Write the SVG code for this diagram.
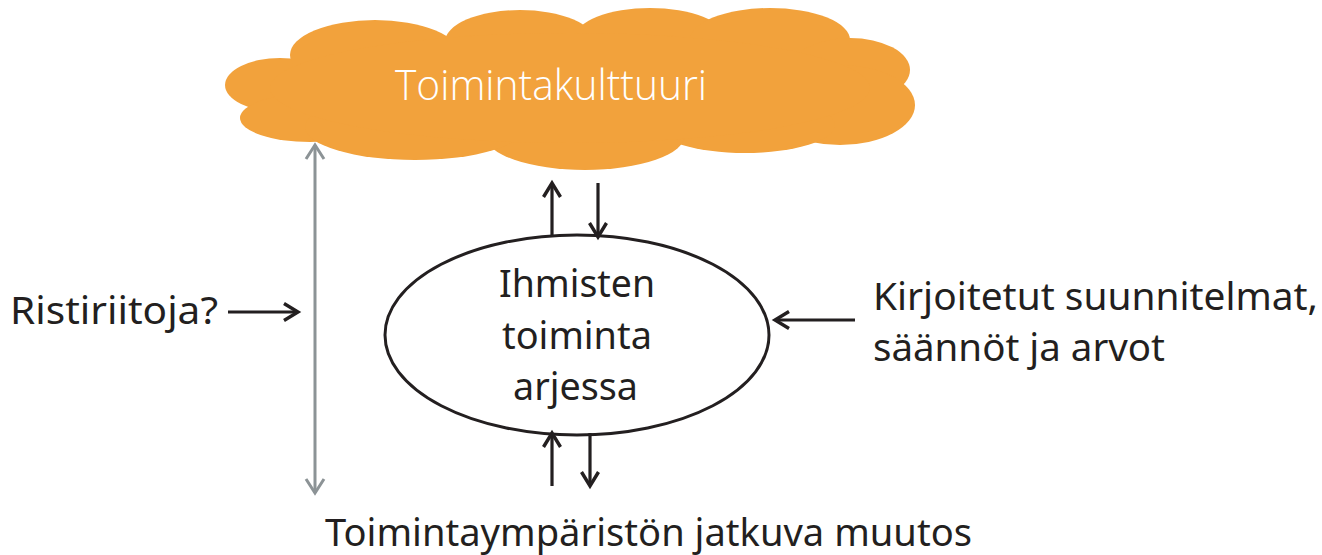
<svg xmlns="http://www.w3.org/2000/svg" width="1322" height="555" viewBox="0 0 1322 555">
<defs>
<style>
.lbl{font-family:"Noto Sans","Open Sans",sans-serif;font-size:38px;fill:#231f20}
.cl{fill:#f2a23c}
.ln{stroke:#231f20;stroke-width:3.2;fill:none}
.gr{stroke:#8c9396;stroke-width:3;fill:none}
</style>
<marker id="ah" viewBox="0 0 22 22" refX="18" refY="11" markerWidth="22" markerHeight="22" markerUnits="userSpaceOnUse" orient="auto-start-reverse">
<path d="M4,2.5 L18,11 L4,19.5" fill="none" stroke="#231f20" stroke-width="3.4"/>
</marker>
<marker id="ag" viewBox="0 0 22 22" refX="18" refY="11" markerWidth="22" markerHeight="22" markerUnits="userSpaceOnUse" orient="auto-start-reverse">
<path d="M4,2 L18,11 L4,20" fill="none" stroke="#8c9396" stroke-width="3"/>
</marker>
</defs>
<rect width="1322" height="555" fill="#ffffff"/>
<g id="cloud">
<ellipse class="cl" cx="280" cy="85" rx="55" ry="27"/>
<ellipse class="cl" cx="310" cy="118" rx="70" ry="24"/>
<ellipse class="cl" cx="375" cy="55" rx="85" ry="35"/>
<ellipse class="cl" cx="520" cy="42" rx="75" ry="32"/>
<ellipse class="cl" cx="650" cy="38" rx="75" ry="30"/>
<ellipse class="cl" cx="770" cy="40" rx="80" ry="32"/>
<ellipse class="cl" cx="850" cy="70" rx="60" ry="32"/>
<ellipse class="cl" cx="840" cy="105" rx="75" ry="40"/>
<ellipse class="cl" cx="745" cy="125" rx="90" ry="28"/>
<ellipse class="cl" cx="585" cy="135" rx="100" ry="35"/>
<ellipse class="cl" cx="415" cy="127" rx="110" ry="33"/>
<ellipse class="cl" cx="570" cy="88" rx="300" ry="55"/>
<text x="395" y="100" textLength="312" lengthAdjust="spacingAndGlyphs" style="font-family:'Open Sans','Noto Sans',sans-serif;font-weight:300;font-size:43px;fill:#ffffff">Toimintakulttuuri</text>
</g>
<g id="ellipse-node">
<ellipse cx="577" cy="335" rx="192" ry="100" fill="#ffffff" stroke="#231f20" stroke-width="3"/>
<text class="lbl"><tspan x="499" y="297" textLength="156" lengthAdjust="spacingAndGlyphs">Ihmisten</tspan><tspan x="502" y="349" textLength="150" lengthAdjust="spacingAndGlyphs">toiminta</tspan><tspan x="513" y="400" textLength="125" lengthAdjust="spacingAndGlyphs">arjessa</tspan></text>
</g>
<g id="left-label"><text class="lbl" x="10" y="324" textLength="208" lengthAdjust="spacingAndGlyphs">Ristiriitoja?</text></g>
<g id="right-label"><text class="lbl"><tspan x="873" y="310" textLength="445" lengthAdjust="spacingAndGlyphs">Kirjoitetut suunnitelmat,</tspan><tspan x="873" y="361" textLength="292" lengthAdjust="spacingAndGlyphs">säännöt ja arvot</tspan></text></g>
<g id="bottom-label"><text class="lbl" x="325" y="546" textLength="647" lengthAdjust="spacingAndGlyphs">Toimintaympäristön jatkuva muutos</text></g>
<g id="connectors">
<line class="ln" x1="552" y1="236" x2="552" y2="183" marker-end="url(#ah)"/>
<line class="ln" x1="598" y1="183" x2="598" y2="237" marker-end="url(#ah)"/>
<line class="ln" x1="552" y1="486" x2="552" y2="433" marker-end="url(#ah)"/>
<line class="ln" x1="590" y1="433" x2="590" y2="486" marker-end="url(#ah)"/>
<line class="ln" x1="228" y1="312" x2="298" y2="312" marker-end="url(#ah)"/>
<line class="ln" x1="855" y1="320" x2="775" y2="320" marker-end="url(#ah)"/>
<line class="gr" x1="315" y1="145" x2="315" y2="493" marker-start="url(#ag)" marker-end="url(#ag)"/>
</g>
</svg>
